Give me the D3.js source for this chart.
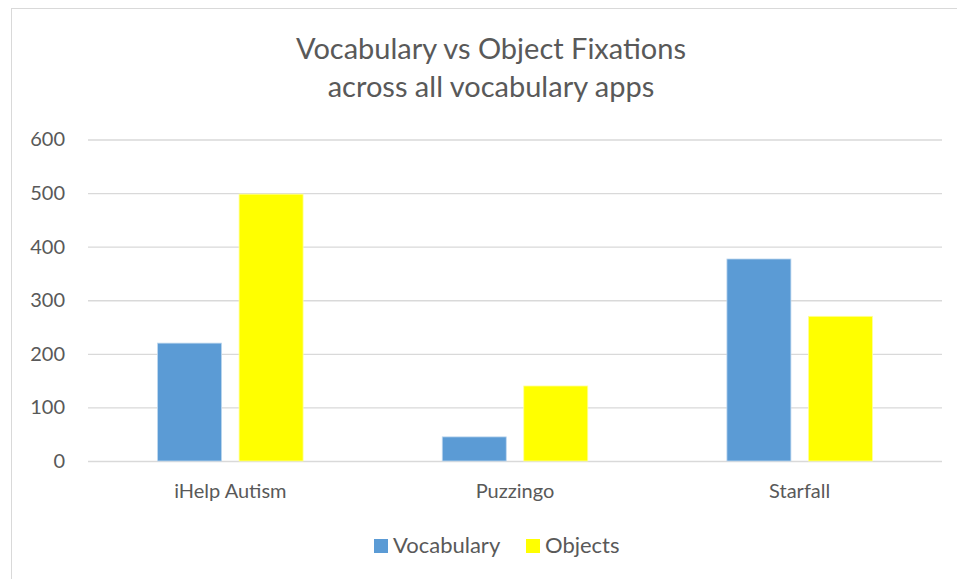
<!DOCTYPE html>
<html>
<head>
<meta charset="utf-8">
<script src="https://cdn.jsdelivr.net/npm/d3@7"></script>
<style>
  body { margin: 0; background: #fff; }
  svg text { font-family: Lato, "Open Sans", sans-serif; fill: #595959; }
</style>
</head>
<body>
<div id="chart"></div>
<script>
// data
var apps = ["iHelp Autism", "Puzzingo", "Starfall"];
var seriesNames = ["Vocabulary", "Objects"];
var vocabulary = [220, 45, 377];
var objects = [498, 140, 270];
var yTicks = [0, 100, 200, 300, 400, 500, 600];

var colors = { Vocabulary: "#5B9BD5", Objects: "#FFFF00" };

var W = 957, H = 579;
var margin = { top: 139.5, right: 15, bottom: 118, left: 88 };
var width = W - margin.left - margin.right,
    height = H - margin.top - margin.bottom;

var svg = d3.select("#chart").append("svg")
    .attr("width", W)
    .attr("height", H);

// chart area border (runs off the right and bottom edge)
svg.append("rect")
    .attr("x", 11.5).attr("y", 8.5)
    .attr("width", W + 20).attr("height", H + 20)
    .attr("fill", "none")
    .attr("stroke", "#D9D9D9")
    .attr("stroke-width", 1);

// title
var title = svg.append("text")
    .attr("text-anchor", "middle")
    .style("font-size", "29px");
title.append("tspan").attr("x", 491).attr("y", 59).text("Vocabulary vs Object Fixations");
title.append("tspan").attr("x", 491).attr("y", 97).text("across all vocabulary apps");

var g = svg.append("g").attr("transform", "translate(" + margin.left + "," + margin.top + ")");

var x0 = d3.scaleBand().domain(apps).range([0, width]).paddingInner(0).paddingOuter(0);
var y = d3.scaleLinear().domain([0, 600]).range([height, 0]);

// gridlines
g.append("g")
    .call(d3.axisLeft(y).tickValues(yTicks).tickSize(-width).tickFormat(""))
    .call(function(s) {
      s.select(".domain").remove();
      s.selectAll("line").attr("stroke", "#D9D9D9").attr("stroke-width", 1.3);
    });

// y labels
g.append("g")
    .call(d3.axisLeft(y).tickValues(yTicks).tickSize(0).tickPadding(23))
    .call(function(s) {
      s.select(".domain").remove();
      s.selectAll("text").style("font-size", "20px").attr("fill", "#595959");
    });

// bars
var barW = 64, gap = 17.5;
var groups = g.selectAll(".grp")
    .data(apps)
  .enter().append("g")
    .attr("class", "grp")
    .attr("transform", function(d) { return "translate(" + (x0(d) + x0.bandwidth() / 2) + ",0)"; });

groups.append("rect")
    .attr("x", -gap / 2 - barW)
    .attr("width", barW)
    .attr("y", function(d, i) { return y(vocabulary[i]); })
    .attr("height", function(d, i) { return height - y(vocabulary[i]); })
    .attr("fill", colors.Vocabulary)
    .attr("stroke", "#BDD7EE")
    .attr("stroke-width", 0.8);

groups.append("rect")
    .attr("x", gap / 2)
    .attr("width", barW)
    .attr("y", function(d, i) { return y(objects[i]); })
    .attr("height", function(d, i) { return height - y(objects[i]); })
    .attr("fill", colors.Objects)
    .attr("stroke", "#FFFF99")
    .attr("stroke-width", 0.8);

// x labels
g.append("g")
    .attr("transform", "translate(0," + height + ")")
    .call(d3.axisBottom(x0).tickSize(0))
    .call(function(s) {
      s.select(".domain").remove();
      s.selectAll("text")
        .attr("y", 37).attr("dy", null)
        .style("font-size", "20px").attr("fill", "#595959");
    });

// legend
var legend = svg.append("g");
var legX = [374, 526];
seriesNames.forEach(function(name, i) {
  legend.append("rect")
      .attr("x", legX[i]).attr("y", 539)
      .attr("width", 14).attr("height", 14)
      .attr("fill", colors[name]);
  legend.append("text")
      .attr("x", legX[i] + 19).attr("y", 552.5)
      .style("font-size", "22px")
      .text(name);
});
</script>
</body>
</html>
